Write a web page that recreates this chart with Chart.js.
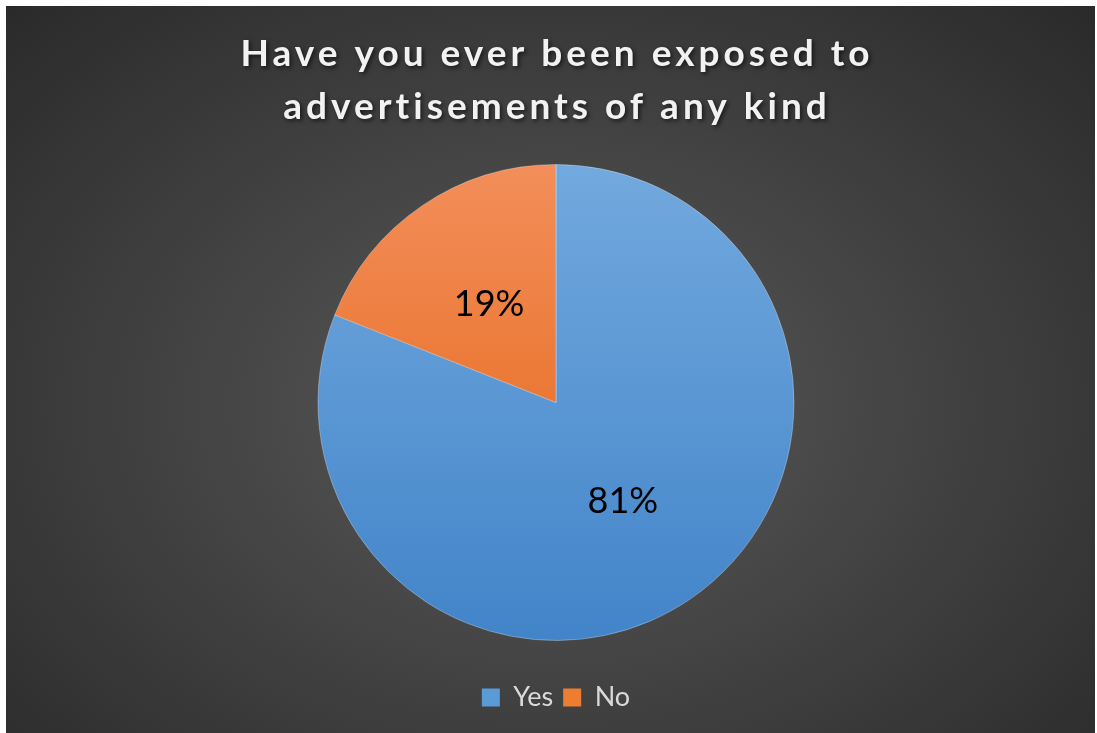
<!DOCTYPE html>
<html>
<head>
<meta charset="utf-8">
<script src="https://cdn.jsdelivr.net/npm/chart.js@4/dist/chart.umd.min.js"></script>
<style>
  html, body { margin: 0; padding: 0; background: #ffffff; }
  #frame {
    position: absolute;
    left: 6px;
    top: 6px;
    width: 1089px;
    height: 727px;
    background: radial-gradient(farthest-corner at 50% 55%, #5a5a5a 0%, #2a2a2a 100%);
  }
  canvas { display: block; }
</style>
</head>
<body>
<div id="frame"><canvas id="chart" width="1089" height="727"></canvas></div>
<script>
'use strict';

let titleLines = ['Have you ever been exposed to', 'advertisements of any kind'];
let answers = ['Yes', 'No'];
let shares = [81, 19];
let topColors = ['#72a9de', '#f38e5a'];
let bottomColors = ['#4284c9', '#e3610f'];
let legendColors = ['#5b9bd5', '#ed7d31'];
let pieRadius = 238;

let ctx = document.getElementById('chart').getContext('2d');

// vertical gradient across the whole pie, one per slice
function sliceFill(context) {
  let chart = context.chart;
  let area = chart.chartArea;
  let i = context.dataIndex || 0;
  if (!area) {
    return legendColors[i];
  }
  let cy = (area.top + area.bottom) / 2;
  if (!isFinite(cy)) {
    return legendColors[i];
  }
  let grad = chart.ctx.createLinearGradient(0, cy - pieRadius, 0, cy + pieRadius);
  grad.addColorStop(0, topColors[i]);
  grad.addColorStop(1, bottomColors[i]);
  return grad;
}

// title with letter spacing and a soft shadow
const titlePlugin = {
  id: 'spacedTitle',
  afterDraw(chart) {
    let c = chart.ctx;
    c.save();
    c.font = 'bold 37px Lato';
    c.letterSpacing = '4px';
    c.fillStyle = '#f2f2f2';
    c.textAlign = 'center';
    c.textBaseline = 'alphabetic';
    c.shadowColor = 'rgba(0, 0, 0, 0.6)';
    c.shadowOffsetX = 2;
    c.shadowOffsetY = 2;
    c.shadowBlur = 4;
    // letterSpacing adds a trailing gap, so nudge right by half of it
    c.fillText(titleLines[0], 551, 60);
    c.fillText(titleLines[1], 551, 113);
    c.restore();
  }
};

// percentage inside each slice
const percentPlugin = {
  id: 'percentLabels',
  afterDatasetsDraw(chart) {
    let c = chart.ctx;
    let meta = chart.getDatasetMeta(0);
    let values = chart.data.datasets[0].data;
    let total = values.reduce((a, b) => a + b, 0);
    c.save();
    c.font = '36px Lato';
    c.fillStyle = '#000000';
    c.textAlign = 'center';
    c.textBaseline = 'middle';
    for (let i = 0; i < meta.data.length; i++) {
      let pos = meta.data[i].tooltipPosition();
      let pct = Math.round(values[i] / total * 100) + '%';
      c.fillText(pct, pos.x, pos.y);
    }
    c.restore();
  }
};

new Chart(ctx, {
  type: 'pie',
  data: {
    labels: answers,
    datasets: [{
      data: shares,
      backgroundColor: sliceFill,
      borderColor: 'rgba(255, 255, 255, 0.3)',
      borderWidth: 1,
      radius: pieRadius
    }]
  },
  options: {
    responsive: false,
    animation: false,
    devicePixelRatio: 1,
    layout: {
      padding: { top: 125, left: 11, right: 0, bottom: 12 }
    },
    plugins: {
      tooltip: { enabled: false },
      title: { display: false },
      legend: {
        position: 'bottom',
        labels: {
          color: '#d9d9d9',
          font: { family: 'Lato', size: 27 },
          boxWidth: 18,
          boxHeight: 18,
          padding: 10,
          generateLabels(chart) {
            return chart.data.labels.map((label, i) => ({
              text: label,
              fillStyle: legendColors[i],
              strokeStyle: legendColors[i],
              lineWidth: 0,
              fontColor: '#d9d9d9',
              index: i
            }));
          }
        }
      }
    }
  },
  plugins: [titlePlugin, percentPlugin]
});
</script>
</body>
</html>
